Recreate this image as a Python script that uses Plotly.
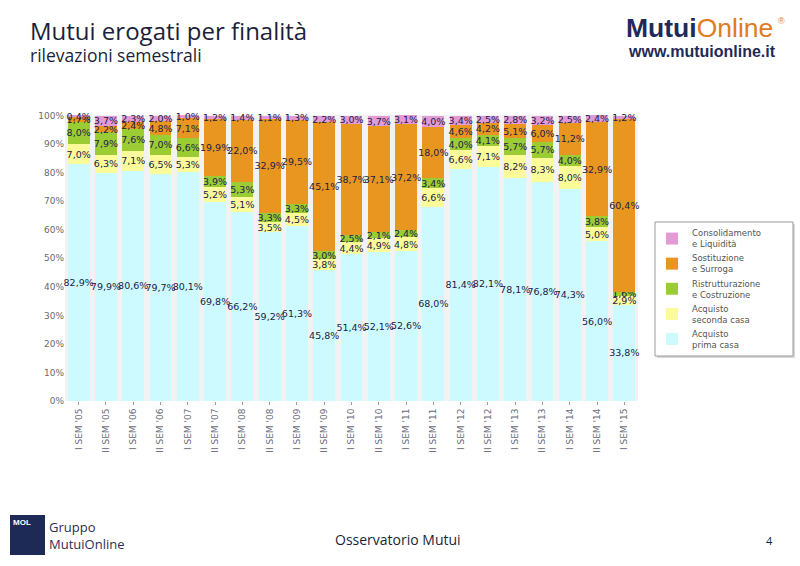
import plotly.graph_objects as go

categories = ["I SEM '05", "II SEM '05", "I SEM '06", "II SEM '06", "I SEM '07", "II SEM '07",
              "I SEM '08", "II SEM '08", "I SEM '09", "II SEM '09", "I SEM '10", "II SEM '10",
              "I SEM '11", "II SEM '11", "I SEM '12", "II SEM '12", "I SEM '13", "II SEM '13",
              "I SEM '14", "II SEM '14", "I SEM '15"]

prima_casa = [82.9, 79.9, 80.6, 79.7, 80.1, 69.8, 66.2, 59.2, 61.3, 45.8, 51.4, 52.1, 52.6,
              68.0, 81.4, 82.1, 78.1, 76.8, 74.3, 56.0, 33.8]
seconda_casa = [7.0, 6.3, 7.1, 6.5, 5.3, 5.2, 5.1, 3.5, 4.5, 3.8, 4.4, 4.9, 4.8,
                6.6, 6.6, 7.1, 8.2, 8.3, 8.0, 5.0, 2.9]
ristrutturazione = [8.0, 7.9, 7.6, 7.0, 6.6, 3.9, 5.3, 3.3, 3.3, 3.0, 2.5, 2.1, 2.4,
                    3.4, 4.0, 4.1, 5.7, 5.7, 4.0, 3.8, 1.6]
sostituzione = [1.7, 2.2, 2.4, 4.8, 7.1, 19.9, 22.0, 32.9, 29.5, 45.1, 38.7, 37.1, 37.2,
                18.0, 4.6, 4.2, 5.1, 6.0, 11.2, 32.9, 60.4]
consolidamento = [0.4, 3.7, 2.3, 2.0, 1.0, 1.2, 1.4, 1.1, 1.3, 2.2, 3.0, 3.7, 3.1,
                  4.0, 3.4, 2.5, 2.8, 3.2, 2.5, 2.4, 1.2]

series_names = ["Acquisto<br>prima casa", "Acquisto<br>seconda casa",
                "Ristrutturazione<br>e Costruzione", "Sostituzione<br>e Surroga",
                "Consolidamento<br>e Liquidità"]
series_values = [prima_casa, seconda_casa, ristrutturazione, sostituzione, consolidamento]
series_colors = ["#ccfaff", "#fbfb9a", "#9ccc34", "#e8961f", "#e39bd6"]

y_ticks = list(range(0, 101, 10))
y_ticktext = [f"{v}%" for v in y_ticks]

W, H = 800, 566
ML, MR, MT, MB = 65, 162, 115, 165
Y_TOP = 100.2


def px_x(px):
    return (px - ML) / (W - ML - MR)


def px_y(py):
    return (H - MB - py) / (H - MT - MB)


fig = go.Figure()
for name, vals, col in zip(series_names, series_values, series_colors):
    fig.add_trace(go.Bar(
        x=categories, y=vals, name=name,
        marker=dict(color=col, line=dict(width=0)),
        texttemplate="%{y:.1f}%", textposition="inside", insidetextanchor="middle",
        textangle=0, cliponaxis=False, constraintext="none",
        textfont=dict(family="DejaVu Sans", size=9.5, color="#1b2148"),
    ))

fig.update_layout(
    width=W, height=H,
    barmode="stack", bargap=0.2,
    separators=",.",
    paper_bgcolor="white", plot_bgcolor="#f2f2f2",
    margin=dict(l=ML, r=MR, t=MT, b=MB),
    showlegend=True,
    legend=dict(x=px_x(652), y=px_y(221), xanchor="left", yanchor="top",
                traceorder="reversed", borderwidth=0,
                bgcolor="rgba(0,0,0,0)", font=dict(family="DejaVu Sans", size=8.5, color="#555555"),
                itemwidth=30, tracegroupgap=0),
    xaxis=dict(showgrid=False, tickangle=-90, ticks="outside", ticklen=3, tickcolor="#999999",
               tickfont=dict(family="DejaVu Sans", size=9, color="#6a6a7a"), showline=False),
    yaxis=dict(range=[0, Y_TOP], tickvals=y_ticks, ticktext=y_ticktext, showgrid=False,
               zeroline=False, tickfont=dict(family="DejaVu Sans", size=9, color="#6a6a6a")),
)

annotations = [
    dict(text="Mutui erogati per finalità", x=28, y=12, font=dict(family="Open Sans", size=24, color="#1c1f3c")),
    dict(text="rilevazioni semestrali", x=28, y=41, font=dict(family="Open Sans", size=17.5, color="#1c1f3c")),
    dict(text="<b>Mutui</b><span style='color:#e07b1f'>Online</span>",
         x=624, y=11, font=dict(family="Liberation Sans", size=26.5, color="#1f2a5a")),
    dict(text="®", x=776, y=14, font=dict(family="Liberation Sans", size=9, color="#e07b1f")),
    dict(text="<b>www.mutuionline.it</b>", x=626, y=41, font=dict(family="Liberation Sans", size=16, color="#1f2a5a")),
    dict(text="Gruppo<br>MutuiOnline", x=47, y=516, font=dict(family="Open Sans", size=13, color="#2b3050")),
    dict(text="Osservatorio Mutui", x=333, y=528, font=dict(family="Open Sans", size=14, color="#1c1f3c")),
    dict(text="4", x=764, y=531, font=dict(family="Open Sans", size=11, color="#1c1f3c")),
    dict(text="<b>MOL</b>", x=11, y=516, font=dict(family="Liberation Sans", size=8, color="white")),
]
for a in annotations:
    fig.add_annotation(text=a["text"], xref="paper", yref="paper",
                       x=px_x(a["x"]), y=px_y(a["y"]), xanchor="left", yanchor="top",
                       showarrow=False, font=a["font"], align="left")

# MOL logo block
fig.add_shape(type="rect", xref="paper", yref="paper",
              x0=px_x(10), x1=px_x(45), y0=px_y(555), y1=px_y(515),
              fillcolor="#1d2a55", line=dict(width=0), layer="below")
# legend frame with soft shadow
fig.add_shape(type="rect", xref="paper", yref="paper",
              x0=px_x(657), x1=px_x(795), y0=px_y(358), y1=px_y(224),
              fillcolor="#d8d8d8", line=dict(width=0), layer="below")
fig.add_shape(type="rect", xref="paper", yref="paper",
              x0=px_x(655), x1=px_x(793), y0=px_y(356), y1=px_y(222),
              fillcolor="white", line=dict(width=1, color="#9a9a9a"), layer="below")

fig.write_html("out.html", config={"displayModeBar": False},
               post_script="document.body.style.margin='0';")
